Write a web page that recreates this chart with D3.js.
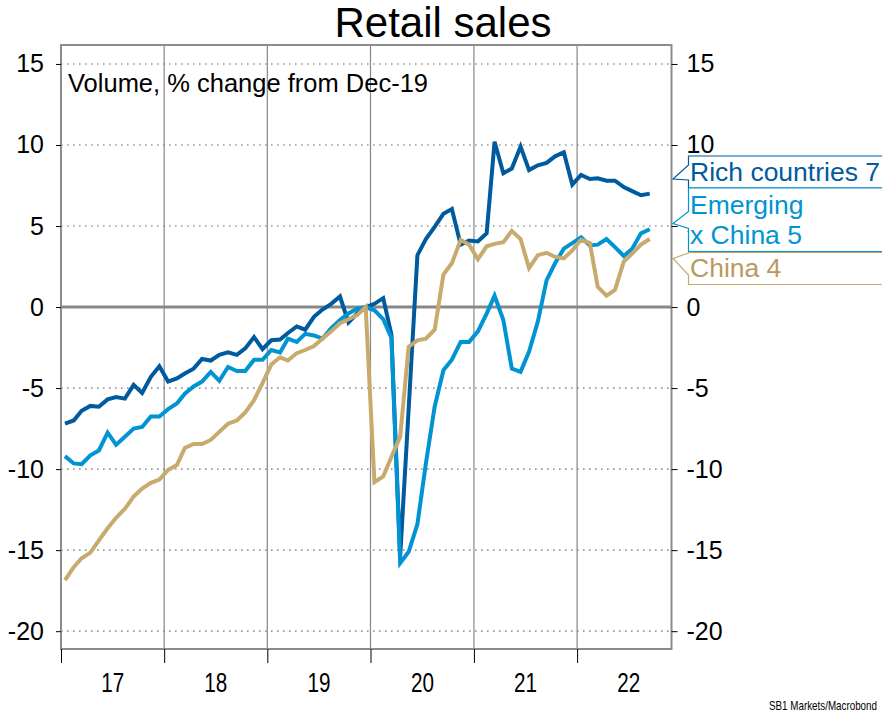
<!DOCTYPE html>
<html>
<head>
<meta charset="utf-8">
<script src="https://cdn.jsdelivr.net/npm/d3@7"></script>
<style>
  body { margin: 0; background: #fff; }
  text { font-family: "Liberation Sans", Arial, sans-serif; }
</style>
</head>
<body>
<svg id="chart" width="882" height="718"></svg>
<script>
// monthly values, Jan 2017 - Sep 2022
var rich = [
    -7.2, -7.0, -6.4, -6.1, -6.15, -5.7, -5.55, -5.65, -4.8, -5.3, -4.3, -3.65,
    -4.6, -4.4, -4.1, -3.8, -3.2, -3.3, -2.95, -2.8, -2.95, -2.55, -1.85, -2.6,
    -2.05, -2.0, -1.6, -1.2, -1.4, -0.6, -0.15, 0.2, 0.65, -0.95, -0.4, 0,
    0.2, 0.55, -1.7, -15.4, -6.3, 3.2, 4.2, 4.95, 5.75, 6.05, 3.85, 4.1,
    4.05, 4.55, 10.2, 8.25, 8.55, 9.9, 8.45, 8.75, 8.9, 9.3, 9.55, 7.55,
    8.15, 7.9, 7.95, 7.8, 7.8, 7.4, 7.15, 6.9, 7.0
];
var emerging = [
    -9.2, -9.65, -9.7, -9.15, -8.85, -7.75, -8.5, -8.0, -7.5, -7.4, -6.75, -6.75,
    -6.3, -5.95, -5.35, -4.9, -4.6, -4.0, -4.55, -3.7, -3.95, -3.95, -3.25, -3.25,
    -2.65, -2.8, -1.95, -2.15, -1.65, -1.75, -1.95, -1.3, -0.8, -0.4, -0.1, 0,
    -0.2, -0.75, -1.9, -15.8, -15.1, -13.4, -9.65, -6.15, -3.9, -3.25, -2.15, -2.15,
    -1.5, -0.4, 0.7, -0.8, -3.8, -4.0, -2.75, -0.9, 1.65, 2.7, 3.6, 3.95,
    4.3, 3.8, 3.85, 4.2, 3.7, 3.15, 3.6, 4.55, 4.8
];
var china = [
    -16.85, -16.05, -15.5, -15.15, -14.4, -13.65, -13.0, -12.45, -11.7, -11.2, -10.85, -10.65,
    -10.05, -9.75, -8.7, -8.45, -8.45, -8.2, -7.7, -7.2, -7.0, -6.5, -5.75, -4.7,
    -3.55, -3.1, -3.3, -2.85, -2.65, -2.4, -1.95, -1.5, -1.0, -0.75, -0.5, 0,
    -10.8, -10.45, -9.25, -8.0, -2.45, -2.05, -1.95, -1.4, 2.0, 2.7, 4.15, 3.85,
    2.95, 3.75, 3.9, 4.0, 4.7, 4.2, 2.4, 3.2, 3.35, 3.1, 3.0, 3.5,
    4.15, 3.95, 1.25, 0.7, 1.05, 2.8, 3.3, 3.85, 4.2
];
var yTicks = [-20, -15, -10, -5, 0, 5, 10, 15];
var years = [2017, 2018, 2019, 2020, 2021, 2022];
var labelLines = [["Rich countries 7"], ["Emerging", "x China 5"], ["China 4"]];
var colors = ["#005a9e", "#0094d3", "#c8aa6e"];

var svg = d3.select("#chart");
var pLeft = 61, pRight = 671.5, pTop = 45, pBottom = 649;

var months = rich.map(function (d, i) {
    return new Date(2017, i, 15);
});

var x = d3.scaleTime()
    .domain([new Date(2017, 0, 1), new Date(2022, 11, 1)])
    .range([pLeft, pRight]);
var y = d3.scaleLinear()
    .domain([-21.1, 16.17])
    .range([pBottom, pTop]);

// title
svg.append("text")
    .attr("x", 443).attr("y", 37)
    .attr("text-anchor", "middle")
    .style("font-size", "42px")
    .text("Retail sales");

// horizontal dotted grid
svg.append("g").selectAll("line")
    .data(yTicks.filter(function (d) { return d !== 0; }))
    .enter().append("line")
    .attr("x1", pLeft).attr("x2", pRight)
    .attr("y1", function (d) { return y(d); })
    .attr("y2", function (d) { return y(d); })
    .attr("stroke", "#999")
    .attr("stroke-width", 1.6)
    .attr("stroke-dasharray", "1.6,4.4");

// year separators
svg.append("g").selectAll("line")
    .data(years.slice(1))
    .enter().append("line")
    .attr("x1", function (d) { return x(new Date(d, 0, 1)); })
    .attr("x2", function (d) { return x(new Date(d, 0, 1)); })
    .attr("y1", pTop).attr("y2", pBottom)
    .attr("stroke", "#888")
    .attr("stroke-width", 1.2);

// zero line
svg.append("line")
    .attr("x1", pLeft).attr("x2", pRight)
    .attr("y1", y(0)).attr("y2", y(0))
    .attr("stroke", "#888")
    .attr("stroke-width", 3);

// series
var line = d3.line()
    .x(function (d, i) { return x(months[i]); })
    .y(function (d) { return y(d); });

[rich, emerging, china].forEach(function (s, k) {
    svg.append("path")
        .datum(s)
        .attr("d", line)
        .attr("fill", "none")
        .attr("stroke", colors[k])
        .attr("stroke-width", 4);
});

// frame
svg.append("rect")
    .attr("x", pLeft).attr("y", pTop)
    .attr("width", pRight - pLeft).attr("height", pBottom - pTop)
    .attr("fill", "none")
    .attr("stroke", "#8c8c8c")
    .attr("stroke-width", 2);

// y axes
var fmt = function (d) { return String(d); };
var yl = svg.append("g")
    .attr("transform", "translate(" + pLeft + ",0)")
    .call(d3.axisLeft(y).tickValues(yTicks).tickSize(5).tickPadding(12).tickFormat(fmt));
var yr = svg.append("g")
    .attr("transform", "translate(" + pRight + ",0)")
    .call(d3.axisRight(y).tickValues(yTicks).tickSize(6).tickPadding(9).tickFormat(fmt));
[yl, yr].forEach(function (g) {
    g.select(".domain").remove();
    g.selectAll("line").attr("stroke", "#000");
    g.selectAll("text")
        .attr("fill", "#000")
        .style("font-size", "25px")
        .style("font-family", "'Liberation Sans', Arial, sans-serif");
});

// x axis: year ticks + mid-year labels
var xt = svg.append("g")
    .attr("transform", "translate(0," + pBottom + ")")
    .call(d3.axisBottom(x)
        .tickValues(years.map(function (d) { return new Date(d, 0, 1); }))
        .tickSize(14).tickFormat(""));
xt.select(".domain").remove();
xt.selectAll("line").attr("stroke", "#000");

var xl = svg.append("g")
    .attr("transform", "translate(0," + pBottom + ")")
    .call(d3.axisBottom(x)
        .tickValues(years.map(function (d) { return new Date(d, 6, 1); }))
        .tickSize(0).tickPadding(23)
        .tickFormat(d3.timeFormat("%y")));
xl.select(".domain").remove();
xl.selectAll("text")
    .attr("fill", "#000")
    .attr("textLength", 23)
    .attr("lengthAdjust", "spacingAndGlyphs")
    .style("font-size", "28px")
    .style("font-family", "'Liberation Sans', Arial, sans-serif");

// inner label
svg.append("text")
    .attr("x", 68).attr("y", 92)
    .style("font-size", "25.5px")
    .text("Volume, % change from Dec-19");

// right-hand callouts
var boxes = [
    {top: 156, bot: 188, tip: 179, a: 165, b: 180, base: [181]},
    {top: 188, bot: 251.5, tip: 223.5, a: 211.5, b: 228.5, base: [214, 244]},
    {top: 252.5, bot: 284.5, tip: 258.5, a: 253, b: 275, base: [277]}
];
var bx = 688.5, tipX = 673;
boxes.forEach(function (b, k) {
    var p = d3.path();
    p.moveTo(882, b.top);
    p.lineTo(bx, b.top);
    p.lineTo(bx, b.a);
    p.lineTo(tipX, b.tip);
    p.lineTo(bx, b.b);
    p.lineTo(bx, b.bot);
    p.lineTo(882, b.bot);
    svg.append("path")
        .attr("d", p.toString())
        .attr("fill", "#fff")
        .attr("stroke", colors[k])
        .attr("stroke-width", 1.2);
    labelLines[k].forEach(function (t, j) {
        svg.append("text")
            .attr("x", 690).attr("y", b.base[j])
            .attr("fill", k === 2 ? "#b89a60" : colors[k])
            .style("font-size", "26.5px")
            .text(t);
    });
});

// source
svg.append("text")
    .attr("x", 769).attr("y", 710)
    .attr("textLength", 108)
    .attr("lengthAdjust", "spacingAndGlyphs")
    .style("font-size", "13px")
    .text("SB1 Markets/Macrobond");
</script>
</body>
</html>
